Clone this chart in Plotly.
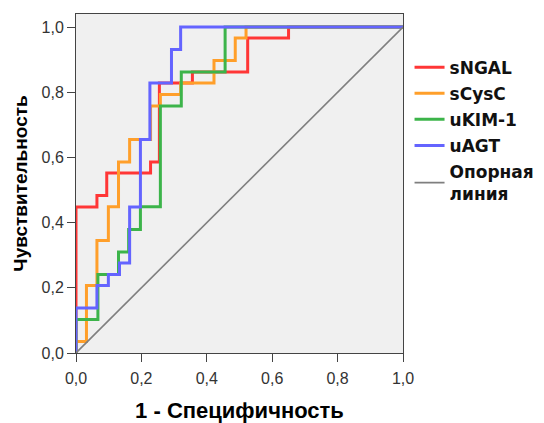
import plotly.graph_objects as go

# ROC step vertices (shape 'vh': vertical first, then horizontal)
sngal_fpr = [0, 0.064, 0.094, 0.228, 0.255, 0.356, 0.525, 0.650, 1.0]
sngal_tpr = [0, 0.448, 0.483, 0.552, 0.586, 0.828, 0.862, 0.966, 1.0]

scysc_fpr = [0, 0.032, 0.064, 0.099, 0.130, 0.164, 0.228, 0.258, 0.320, 0.422, 0.487, 0.520, 1.0]
scysc_tpr = [0, 0.035, 0.207, 0.345, 0.449, 0.586, 0.655, 0.758, 0.793, 0.828, 0.897, 0.966, 1.0]

ukim_fpr = [0, 0.067, 0.130, 0.161, 0.197, 0.258, 0.322, 0.456, 1.0]
ukim_tpr = [0, 0.103, 0.241, 0.310, 0.379, 0.449, 0.758, 0.862, 1.0]

uagt_fpr = [0, 0.064, 0.099, 0.133, 0.164, 0.197, 0.226, 0.292, 0.320, 1.0]
uagt_tpr = [0, 0.138, 0.207, 0.241, 0.276, 0.448, 0.655, 0.828, 0.931, 1.0]

ref_x = [0, 1]
ref_y = [0, 1]

tick_vals = [0, 0.2, 0.4, 0.6, 0.8, 1.0]
tick_text = ["0,0", "0,2", "0,4", "0,6", "0,8", "1,0"]

series = [
    ("sNGAL", sngal_fpr, sngal_tpr, "#ff3636"),
    ("sCysC", scysc_fpr, scysc_tpr, "#ff9f2a"),
    ("uKIM-1", ukim_fpr, ukim_tpr, "#3cb44a"),
    ("uAGT", uagt_fpr, uagt_tpr, "#6464ff"),
]

fig = go.Figure()
for i, (name, x, y, c) in enumerate(series):
    fig.add_trace(go.Scatter(x=x, y=y, mode="lines", name=name,
                             line=dict(color=c, width=3, shape="vh"),
                             legendgroup=f"g{i}", cliponaxis=False))
fig.add_trace(go.Scatter(x=ref_x, y=ref_y, mode="lines", name="Опорная<br>линия",
                         line=dict(color="#7f7f7f", width=1.6), legendgroup="gref"))

axis_common = dict(showline=True, linecolor="#444", linewidth=1, mirror=True,
                   ticks="outside", ticklen=8, tickcolor="#444",
                   showgrid=False, zeroline=False, automargin=False,
                   tickvals=tick_vals, ticktext=tick_text,
                   tickfont=dict(family="Liberation Sans", size=16, color="#333"))

fig.update_layout(
    width=544, height=423,
    margin=dict(l=76, r=141, t=14, b=70, autoexpand=False),
    plot_bgcolor="#f0f0f0", paper_bgcolor="white",
    xaxis=dict(range=[0, 1], ticklabelstandoff=3,
               title=dict(text="1 - Специфичность", standoff=16,
               font=dict(family="Liberation Sans", size=22, color="black", weight="bold")),
               **axis_common),
    yaxis=dict(range=[0, 1.04], title=dict(text="Чувствительность", standoff=8,
               font=dict(family="Liberation Sans", size=19, color="black", weight="bold")),
               **axis_common),
    legend=dict(x=1.02, y=0.895, xanchor="left", yanchor="top",
                font=dict(family="DejaVu Sans", size=17, color="#111", weight="bold"),
                tracegroupgap=1, bgcolor="rgba(0,0,0,0)"),
    showlegend=True,
)

fig.write_html("out.html")
